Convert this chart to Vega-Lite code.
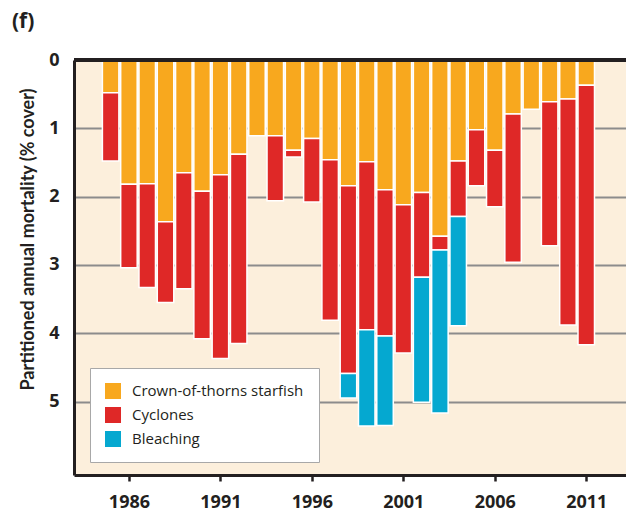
{
  "$schema": "https://vega.github.io/schema/vega-lite/v6.json",
  "autosize": "none",
  "width": 552,
  "height": 415,
  "padding": {"left": 74, "top": 60, "right": 0, "bottom": 38},
  "background": "white",
  "config": {
    "view": {"fill": "#FCEFDC", "stroke": null},
    "font": "Open Sans"
  },
  "title": {
    "text": "(f)",
    "anchor": "start",
    "frame": "group",
    "dx": -62,
    "offset": 19,
    "fontSize": 21,
    "fontWeight": "bold",
    "color": "#231F20",
    "font": "Open Sans"
  },
  "layer": [
    {
      "data": {
        "values": [
          {"year": 1985, "cause": "Crown-of-thorns starfish", "value": 0.48},
          {"year": 1985, "cause": "Cyclones", "value": 1.0},
          {"year": 1986, "cause": "Crown-of-thorns starfish", "value": 1.82},
          {"year": 1986, "cause": "Cyclones", "value": 1.22},
          {"year": 1987, "cause": "Crown-of-thorns starfish", "value": 1.81},
          {"year": 1987, "cause": "Cyclones", "value": 1.52},
          {"year": 1988, "cause": "Crown-of-thorns starfish", "value": 2.37},
          {"year": 1988, "cause": "Cyclones", "value": 1.18},
          {"year": 1989, "cause": "Crown-of-thorns starfish", "value": 1.65},
          {"year": 1989, "cause": "Cyclones", "value": 1.7},
          {"year": 1990, "cause": "Crown-of-thorns starfish", "value": 1.92},
          {"year": 1990, "cause": "Cyclones", "value": 2.16},
          {"year": 1991, "cause": "Crown-of-thorns starfish", "value": 1.68},
          {"year": 1991, "cause": "Cyclones", "value": 2.69},
          {"year": 1992, "cause": "Crown-of-thorns starfish", "value": 1.38},
          {"year": 1992, "cause": "Cyclones", "value": 2.77},
          {"year": 1993, "cause": "Crown-of-thorns starfish", "value": 1.11},
          {"year": 1994, "cause": "Crown-of-thorns starfish", "value": 1.11},
          {"year": 1994, "cause": "Cyclones", "value": 0.95},
          {"year": 1995, "cause": "Crown-of-thorns starfish", "value": 1.32},
          {"year": 1995, "cause": "Cyclones", "value": 0.1},
          {"year": 1996, "cause": "Crown-of-thorns starfish", "value": 1.15},
          {"year": 1996, "cause": "Cyclones", "value": 0.93},
          {"year": 1997, "cause": "Crown-of-thorns starfish", "value": 1.46},
          {"year": 1997, "cause": "Cyclones", "value": 2.35},
          {"year": 1998, "cause": "Crown-of-thorns starfish", "value": 1.84},
          {"year": 1998, "cause": "Cyclones", "value": 2.75},
          {"year": 1998, "cause": "Bleaching", "value": 0.36},
          {"year": 1999, "cause": "Crown-of-thorns starfish", "value": 1.49},
          {"year": 1999, "cause": "Cyclones", "value": 2.46},
          {"year": 1999, "cause": "Bleaching", "value": 1.41},
          {"year": 2000, "cause": "Crown-of-thorns starfish", "value": 1.9},
          {"year": 2000, "cause": "Cyclones", "value": 2.14},
          {"year": 2000, "cause": "Bleaching", "value": 1.31},
          {"year": 2001, "cause": "Crown-of-thorns starfish", "value": 2.12},
          {"year": 2001, "cause": "Cyclones", "value": 2.17},
          {"year": 2002, "cause": "Crown-of-thorns starfish", "value": 1.94},
          {"year": 2002, "cause": "Cyclones", "value": 1.24},
          {"year": 2002, "cause": "Bleaching", "value": 1.83},
          {"year": 2003, "cause": "Crown-of-thorns starfish", "value": 2.58},
          {"year": 2003, "cause": "Cyclones", "value": 0.2},
          {"year": 2003, "cause": "Bleaching", "value": 2.39},
          {"year": 2004, "cause": "Crown-of-thorns starfish", "value": 1.48},
          {"year": 2004, "cause": "Cyclones", "value": 0.81},
          {"year": 2004, "cause": "Bleaching", "value": 1.6},
          {"year": 2005, "cause": "Crown-of-thorns starfish", "value": 1.02},
          {"year": 2005, "cause": "Cyclones", "value": 0.82},
          {"year": 2006, "cause": "Crown-of-thorns starfish", "value": 1.32},
          {"year": 2006, "cause": "Cyclones", "value": 0.83},
          {"year": 2007, "cause": "Crown-of-thorns starfish", "value": 0.79},
          {"year": 2007, "cause": "Cyclones", "value": 2.17},
          {"year": 2008, "cause": "Crown-of-thorns starfish", "value": 0.72},
          {"year": 2009, "cause": "Crown-of-thorns starfish", "value": 0.61},
          {"year": 2009, "cause": "Cyclones", "value": 2.11},
          {"year": 2010, "cause": "Crown-of-thorns starfish", "value": 0.57},
          {"year": 2010, "cause": "Cyclones", "value": 3.31},
          {"year": 2011, "cause": "Crown-of-thorns starfish", "value": 0.37},
          {"year": 2011, "cause": "Cyclones", "value": 3.8}
        ]
      },
      "transform": [
        {
          "lookup": "cause",
          "from": {
            "data": {
              "values": [
                {"cause": "Crown-of-thorns starfish", "stackOrder": 1},
                {"cause": "Cyclones", "stackOrder": 2},
                {"cause": "Bleaching", "stackOrder": 3}
              ]
            },
            "key": "cause",
            "fields": ["stackOrder"]
          }
        }
      ],
      "mark": {"type": "bar", "width": 16.5, "stroke": "white", "strokeWidth": 1.5},
      "encoding": {
        "x": {
          "field": "year",
          "type": "quantitative",
          "scale": {"domain": [1983.27, 2012.9], "nice": false, "zero": false},
          "axis": {
            "values": [1986, 1991, 1996, 2001, 2006, 2011],
            "format": "d",
            "title": null,
            "grid": false,
            "domainColor": "#231F20",
            "domainWidth": 3,
            "tickColor": "#231F20",
            "tickWidth": 2.5,
            "tickSize": 6,
            "labelFontSize": 18,
            "labelFontWeight": "bold",
            "labelColor": "#231F20",
            "labelPadding": 12,
            "labelFont": "Open Sans"
          }
        },
        "y": {
          "field": "value",
          "type": "quantitative",
          "stack": "zero",
          "scale": {"domain": [0, 6.076], "reverse": true, "nice": false},
          "axis": {
            "values": [0, 1, 2, 3, 4, 5],
            "format": "d",
            "title": "Partitioned annual mortality (% cover)",
            "titleFontSize": 18,
            "titleFontWeight": "bold",
            "titleColor": "#231F20",
            "titleFont": "Lato",
            "titlePadding": 11,
            "titleY": 179,
            "grid": true,
            "gridColor": "#8C8C8C",
            "gridWidth": 2,
            "ticks": false,
            "tickSize": 0,
            "domainColor": "#231F20",
            "domainWidth": 3,
            "labelFontSize": 18,
            "labelFontWeight": "bold",
            "labelColor": "#231F20",
            "labelPadding": 15,
            "labelFont": "Open Sans"
          }
        },
        "order": {"field": "stackOrder", "type": "quantitative", "sort": "ascending"},
        "color": {
          "field": "cause",
          "type": "nominal",
          "sort": ["Crown-of-thorns starfish", "Cyclones", "Bleaching"],
          "scale": {
            "domain": ["Crown-of-thorns starfish", "Cyclones", "Bleaching"],
            "range": ["#F8A81E", "#DF2827", "#05A8D0"]
          },
          "legend": {
            "orient": "none",
            "legendX": 16,
            "legendY": 308,
            "title": null,
            "fillColor": "white",
            "strokeColor": "#A8A8A8",
            "padding": 15,
            "symbolType": "square",
            "symbolSize": 256,
            "symbolStrokeWidth": 0,
            "labelFontSize": 15,
            "labelFont": "Open Sans",
            "labelColor": "#231F20",
            "labelLimit": 400,
            "labelOffset": 11,
            "rowPadding": 8
          }
        }
      }
    },
    {
      "data": {"values": [{"value": 0}]},
      "mark": {"type": "rule", "color": "#231F20", "strokeWidth": 4},
      "encoding": {
        "y": {"field": "value", "type": "quantitative"}
      }
    }
  ]
}
